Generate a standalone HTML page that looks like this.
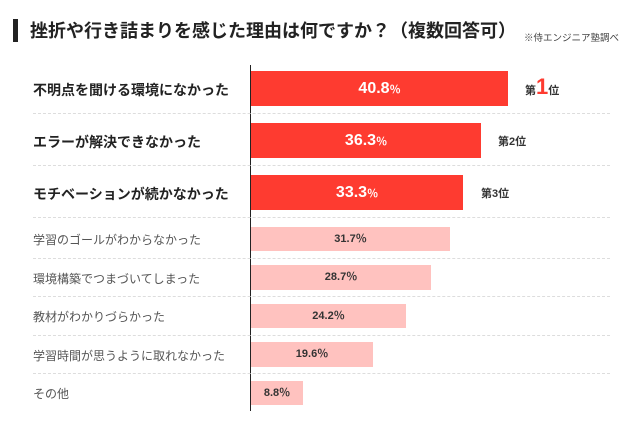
<!DOCTYPE html>
<html><head><meta charset="utf-8"><style>
body{margin:0;width:640px;height:429px;background:#fff;position:relative;overflow:hidden;font-family:"Liberation Sans","Noto Sans CJK JP",sans-serif}
.a{position:absolute}
.bar{position:absolute;left:251px}
.big{background:#fe3b30;color:#fff;font-weight:bold;font-size:16px;text-align:center}
.sm{background:#ffc2bf;color:#333;font-weight:bold;font-size:11px;text-align:center}
.lb{position:absolute;left:33px}
.lbb{font-weight:bold;font-size:14px;color:#222}
.lbs{font-size:12px;color:#555}
.sep{position:absolute;left:33px;width:577px;border-top:1px dashed #ddd}
.rk{position:absolute;font-size:11px;font-weight:bold;color:#333}
</style></head><body>
<div class="a" style="left:13px;top:19px;width:5px;height:23px;background:#222"></div>
<div class="a" style="left:30px;top:17px;font-size:18px;font-weight:bold;color:#222;white-space:nowrap">挫折や行き詰まりを感じた理由は何ですか？（複数回答可）</div>
<div class="a" style="left:524px;top:30px;font-size:9.5px;color:#444;white-space:nowrap">※侍エンジニア塾調べ</div>
<div class="a" style="left:250px;top:65px;width:1px;height:346px;background:#222"></div>

<div class="sep" style="top:113px"></div><div class="sep" style="top:165px"></div><div class="sep" style="top:217px"></div>
<div class="sep" style="top:258px"></div><div class="sep" style="top:296px"></div><div class="sep" style="top:335px"></div><div class="sep" style="top:373px"></div>

<div class="bar big" style="top:71px;width:257px;height:35px;line-height:35px">40.8<span style="font-size:11px">％</span></div>
<div class="bar big" style="top:123px;width:230px;height:35px;line-height:35px">36.3<span style="font-size:11px">％</span></div>
<div class="bar big" style="top:175px;width:212px;height:35px;line-height:35px">33.3<span style="font-size:11px">％</span></div>
<div class="bar sm" style="top:227px;width:199px;height:24px;line-height:24px">31.7％</div>
<div class="bar sm" style="top:265px;width:180px;height:25px;line-height:25px">28.7％</div>
<div class="bar sm" style="top:304px;width:155px;height:24px;line-height:24px">24.2％</div>
<div class="bar sm" style="top:342px;width:122px;height:25px;line-height:25px">19.6％</div>
<div class="bar sm" style="top:381px;width:52px;height:24px;line-height:24px">8.8％</div>

<div class="lb lbb" style="top:80px">不明点を聞ける環境になかった</div>
<div class="lb lbb" style="top:132px">エラーが解決できなかった</div>
<div class="lb lbb" style="top:184px">モチベーションが続かなかった</div>
<div class="lb lbs" style="top:231px">学習のゴールがわからなかった</div>
<div class="lb lbs" style="top:270px">環境構築でつまづいてしまった</div>
<div class="lb lbs" style="top:308px">教材がわかりづらかった</div>
<div class="lb lbs" style="top:347px">学習時間が思うように取れなかった</div>
<div class="lb lbs" style="top:385px">その他</div>

<div class="rk" style="left:525px;top:80px;white-space:nowrap">第<span style="color:#fe3b30;font-size:22px;line-height:14px">1</span>位</div>
<div class="rk" style="left:498px;top:133px">第2位</div>
<div class="rk" style="left:481px;top:185px">第3位</div>
</body></html>
